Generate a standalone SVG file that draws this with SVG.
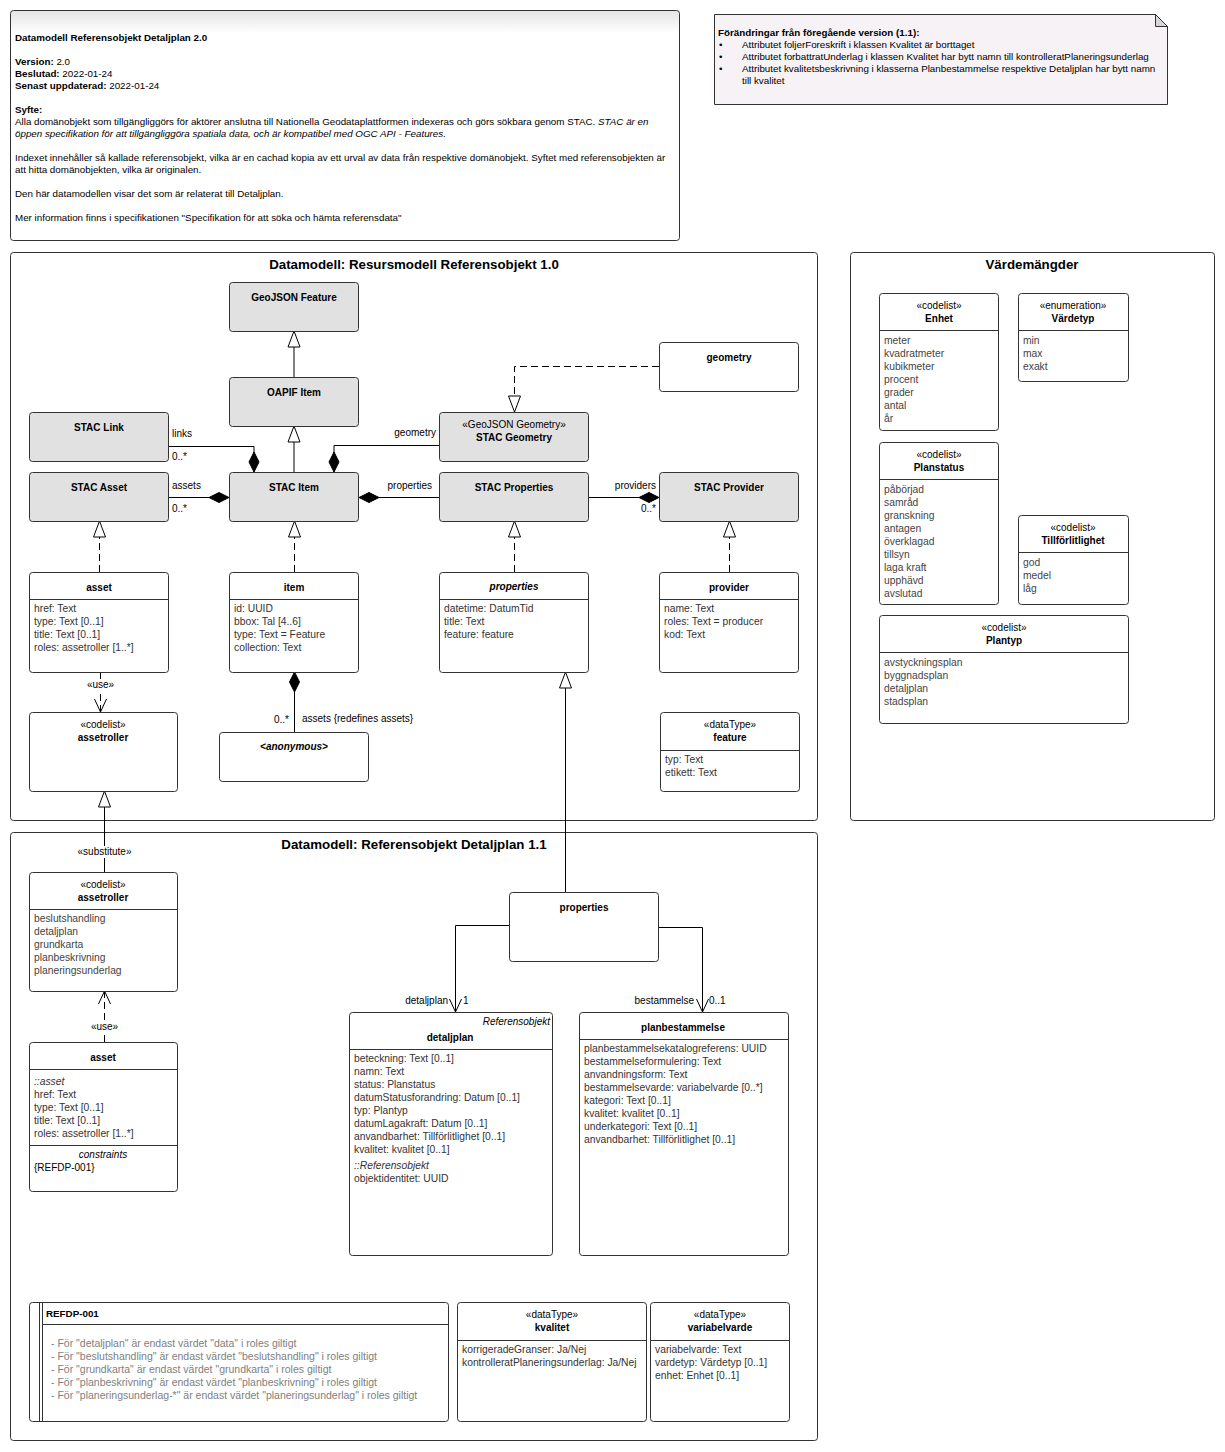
<svg xmlns="http://www.w3.org/2000/svg" width="1225" height="1452" viewBox="0 0 1225 1452">
<style>
text{font-family:"Liberation Sans",Arial,sans-serif;}
.n{font-size:9.8px;fill:#000;}
.nb{font-size:9.8px;font-weight:bold;fill:#000;}
.pk{font-size:13.3px;font-weight:bold;fill:#000;text-anchor:middle;}
.nm{font-size:10px;font-weight:bold;fill:#000;text-anchor:middle;}
.st{font-size:10px;fill:#000;text-anchor:middle;}
.a{font-size:10.3px;fill:#333;}
.v{font-size:10.3px;fill:#444;}
.lb{font-size:10px;fill:#000;}
.c{font-size:10.5px;fill:#808080;}
.frame{fill:#fff;stroke:#333;stroke-width:1;}
.gray{fill:#E1E1E1;stroke:#333;stroke-width:1;}
.box{fill:#fff;stroke:#333;stroke-width:1;}
.div{stroke:#333;stroke-width:1;fill:none;}
.ln{stroke:#000;stroke-width:1;fill:none;}
.dash{stroke:#000;stroke-width:1;fill:none;stroke-dasharray:7,4;}
</style>
<defs>
<linearGradient id="noteGrad" x1="0" y1="0" x2="0" y2="1">
<stop offset="0" stop-color="#E4E4E4"/>
<stop offset="0.1" stop-color="#FFFFFF"/>
<stop offset="1" stop-color="#FFFFFF"/>
</linearGradient>
<marker id="tri" markerUnits="userSpaceOnUse" markerWidth="20" markerHeight="16" refX="17" refY="7" orient="auto">
<path d="M1,1 L17,7 L1,13 z" fill="#fff" stroke="#000" stroke-width="1" stroke-dasharray="none"/>
</marker>
<marker id="dia" markerUnits="userSpaceOnUse" markerWidth="22" markerHeight="12" refX="1" refY="6" orient="auto">
<path d="M1,6 L11,1 L21,6 L11,11 z" fill="#000" stroke="#000" stroke-width="1" stroke-dasharray="none"/>
</marker>
<marker id="open" markerUnits="userSpaceOnUse" markerWidth="16" markerHeight="14" refX="14" refY="7" orient="auto">
<path d="M1,1 L14,7 L1,13" fill="none" stroke="#000" stroke-width="1" stroke-dasharray="none"/>
</marker>
</defs>
<rect width="1225" height="1452" fill="#fff"/>

<!-- Notes -->
<g id="note-main">
<rect x="10.5" y="10.5" width="669" height="230" rx="3" fill="url(#noteGrad)" stroke="#333"/>
<text class="nb" x="15" y="41">Datamodell Referensobjekt Detaljplan 2.0</text>
<text class="n" x="15" y="65"><tspan font-weight="bold">Version:</tspan> 2.0</text>
<text class="n" x="15" y="77"><tspan font-weight="bold">Beslutad:</tspan> 2022-01-24</text>
<text class="n" x="15" y="89"><tspan font-weight="bold">Senast uppdaterad:</tspan> 2022-01-24</text>
<text class="nb" x="15" y="113">Syfte:</text>
<text class="n" x="15" y="125">Alla domänobjekt som tillgängliggörs för aktörer anslutna till Nationella Geodataplattformen indexeras och görs sökbara genom STAC. <tspan font-style="italic">STAC är en</tspan></text>
<text class="n" x="15" y="137" font-style="italic">öppen specifikation för att tillgängliggöra spatiala data, och är kompatibel med OGC API - Features.</text>
<text class="n" x="15" y="161">Indexet innehåller så kallade referensobjekt, vilka är en cachad kopia av ett urval av data från respektive domänobjekt. Syftet med referensobjekten är</text>
<text class="n" x="15" y="173">att hitta domänobjekten, vilka är originalen.</text>
<text class="n" x="15" y="197">Den här datamodellen visar det som är relaterat till Detaljplan.</text>
<text class="n" x="15" y="221">Mer information finns i specifikationen "Specifikation för att söka och hämta referensdata"</text>
</g>
<g id="note-changes">
<path d="M714.5,14.5 H1155.5 L1167.5,26.5 V104.5 H714.5 z" fill="#F6F2F6" stroke="#333"/>
<path d="M1155.5,14.5 V26.5 H1167.5 z" fill="#D6D6D6" stroke="#333"/>
<text class="nb" x="718" y="36">Förändringar från föregående version (1.1):</text>
<text class="n" x="719" y="48">•</text>
<text class="n" x="742" y="48">Attributet foljerForeskrift i klassen Kvalitet är borttaget</text>
<text class="n" x="719" y="60">•</text>
<text class="n" x="742" y="60">Attributet forbattratUnderlag i klassen Kvalitet har bytt namn till kontrolleratPlaneringsunderlag</text>
<text class="n" x="719" y="72">•</text>
<text class="n" x="742" y="72">Attributet kvalitetsbeskrivning i klasserna Planbestammelse respektive Detaljplan har bytt namn</text>
<text class="n" x="742" y="84">till kvalitet</text>
</g>

<!-- Packages -->
<g id="pkg-resursmodell">
<rect class="frame" x="10.5" y="252.5" width="807" height="568" rx="3"/>
<text class="pk" x="414" y="269">Datamodell: Resursmodell Referensobjekt 1.0</text>
</g>
<g id="pkg-detaljplan">
<rect class="frame" x="10.5" y="832.5" width="807" height="608" rx="3"/>
<text class="pk" x="414" y="849">Datamodell: Referensobjekt Detaljplan 1.1</text>
</g>
<g id="pkg-vardemangder">
<rect class="frame" x="850.5" y="252.5" width="364" height="568" rx="3"/>
<text class="pk" x="1032" y="269">Värdemängder</text>
</g>

<!-- Connectors -->
<g id="connectors">
<path class="ln" d="M294,377 V331" marker-end="url(#tri)"/>
<path class="ln" d="M294,472 V426" marker-end="url(#tri)"/>
<path class="ln" d="M254,472 V446.5 H169" marker-start="url(#dia)"/>
<path class="ln" d="M334,472 V445.5 H439" marker-start="url(#dia)"/>
<path class="ln" d="M229,497.5 H169" marker-start="url(#dia)"/>
<path class="ln" d="M359,497.5 H439" marker-start="url(#dia)"/>
<path class="ln" d="M659,497.5 H589" marker-start="url(#dia)"/>
<path class="dash" d="M659,366.5 H514.5 V412" marker-end="url(#tri)"/>
<path class="dash" d="M99.5,572 V521" marker-end="url(#tri)"/>
<path class="dash" d="M294.5,572 V521" marker-end="url(#tri)"/>
<path class="dash" d="M514.5,572 V521" marker-end="url(#tri)"/>
<path class="dash" d="M729.5,572 V521" marker-end="url(#tri)"/>
<path class="dash" d="M100.5,672 V712" marker-end="url(#open)"/>
<path class="ln" d="M294.5,672 V732" marker-start="url(#dia)"/>
<path class="ln" d="M565.5,892 V672" marker-end="url(#tri)"/>
<path class="ln" d="M104.5,872 V791" marker-end="url(#tri)"/>
<path class="dash" d="M104.5,1042 V991" marker-end="url(#open)"/>
<path class="ln" d="M509,925.5 H455.5 V1012" marker-end="url(#open)"/>
<path class="ln" d="M658,927.5 H702.5 V1012" marker-end="url(#open)"/>
<text class="lb" x="172" y="437">links</text>
<text class="lb" x="172" y="460">0..*</text>
<text class="lb" x="436" y="436" text-anchor="end">geometry</text>
<text class="lb" x="172" y="489">assets</text>
<text class="lb" x="172" y="512">0..*</text>
<text class="lb" x="432" y="489" text-anchor="end">properties</text>
<text class="lb" x="656" y="489" text-anchor="end">providers</text>
<text class="lb" x="656" y="512" text-anchor="end">0..*</text>
<rect x="85" y="679" width="32" height="12" fill="#fff"/>
<text class="lb" x="100.5" y="688" text-anchor="middle">«use»</text>
<text class="lb" x="289" y="723" text-anchor="end">0..*</text>
<text class="lb" x="302" y="722">assets {redefines assets}</text>
<rect x="75" y="846" width="59" height="12" fill="#fff"/>
<text class="lb" x="104.5" y="855" text-anchor="middle">«substitute»</text>
<rect x="89" y="1021" width="32" height="12" fill="#fff"/>
<text class="lb" x="104.5" y="1030" text-anchor="middle">«use»</text>
<text class="lb" x="448" y="1004" text-anchor="end">detaljplan</text>
<text class="lb" x="463" y="1004">1</text>
<text class="lb" x="694" y="1004" text-anchor="end">bestammelse</text>
<text class="lb" x="709" y="1004">0..1</text>
</g>

<!-- Package 1 nodes -->
<g id="GeoJSONFeature"><rect class="gray" x="229.5" y="282.5" width="129" height="49" rx="3"/><text class="nm" x="294" y="301">GeoJSON Feature</text></g>
<g id="OAPIFItem"><rect class="gray" x="229.5" y="377.5" width="129" height="49" rx="3"/><text class="nm" x="294" y="396">OAPIF Item</text></g>
<g id="STACLink"><rect class="gray" x="29.5" y="412.5" width="139" height="49" rx="3"/><text class="nm" x="99" y="431">STAC Link</text></g>
<g id="STACAsset"><rect class="gray" x="29.5" y="472.5" width="139" height="49" rx="3"/><text class="nm" x="99" y="491">STAC Asset</text></g>
<g id="STACItem"><rect class="gray" x="229.5" y="472.5" width="129" height="49" rx="3"/><text class="nm" x="294" y="491">STAC Item</text></g>
<g id="STACGeometry"><rect class="gray" x="439.5" y="412.5" width="149" height="49" rx="3"/><text class="st" x="514" y="428">«GeoJSON Geometry»</text><text class="nm" x="514" y="441">STAC Geometry</text></g>
<g id="STACProperties"><rect class="gray" x="439.5" y="472.5" width="149" height="49" rx="3"/><text class="nm" x="514" y="491">STAC Properties</text></g>
<g id="STACProvider"><rect class="gray" x="659.5" y="472.5" width="139" height="49" rx="3"/><text class="nm" x="729" y="491">STAC Provider</text></g>
<g id="geometry"><rect class="box" x="659.5" y="342.5" width="139" height="49" rx="3"/><text class="nm" x="729" y="361">geometry</text></g>

<g id="asset1"><rect class="box" x="29.5" y="572.5" width="139" height="100" rx="3"/><line class="div" x1="29.5" y1="599.5" x2="168.5" y2="599.5"/>
<text class="nm" x="99" y="591">asset</text>
<text class="a" x="34" y="612">href: Text</text>
<text class="a" x="34" y="625">type: Text [0..1]</text>
<text class="a" x="34" y="638">title: Text [0..1]</text>
<text class="a" x="34" y="651">roles: assetroller [1..*]</text></g>
<g id="item"><rect class="box" x="229.5" y="572.5" width="129" height="100" rx="3"/><line class="div" x1="229.5" y1="599.5" x2="358.5" y2="599.5"/>
<text class="nm" x="294" y="591">item</text>
<text class="a" x="234" y="612">id: UUID</text>
<text class="a" x="234" y="625">bbox: Tal [4..6]</text>
<text class="a" x="234" y="638">type: Text = Feature</text>
<text class="a" x="234" y="651">collection: Text</text></g>
<g id="properties1"><rect class="box" x="439.5" y="572.5" width="149" height="100" rx="3"/><line class="div" x1="439.5" y1="599.5" x2="588.5" y2="599.5"/>
<text class="nm" x="514" y="590" font-style="italic">properties</text>
<text class="a" x="444" y="612">datetime: DatumTid</text>
<text class="a" x="444" y="625">title: Text</text>
<text class="a" x="444" y="638">feature: feature</text></g>
<g id="provider"><rect class="box" x="659.5" y="572.5" width="139" height="100" rx="3"/><line class="div" x1="659.5" y1="599.5" x2="798.5" y2="599.5"/>
<text class="nm" x="729" y="591">provider</text>
<text class="a" x="664" y="612">name: Text</text>
<text class="a" x="664" y="625">roles: Text = producer</text>
<text class="a" x="664" y="638">kod: Text</text></g>
<g id="assetroller1"><rect class="box" x="29.5" y="712.5" width="148" height="79" rx="3"/>
<text class="st" x="103" y="728">«codelist»</text>
<text class="nm" x="103" y="741">assetroller</text></g>
<g id="anonymous"><rect class="box" x="219.5" y="732.5" width="149" height="49" rx="3"/>
<text class="nm" x="294" y="750" font-style="italic">&lt;anonymous&gt;</text></g>
<g id="feature"><rect class="box" x="660.5" y="712.5" width="139" height="79" rx="3"/><line class="div" x1="660.5" y1="750.5" x2="799.5" y2="750.5"/>
<text class="st" x="730" y="728">«dataType»</text>
<text class="nm" x="730" y="741">feature</text>
<text class="a" x="665" y="763">typ: Text</text>
<text class="a" x="665" y="776">etikett: Text</text></g>

<!-- Värdemängder nodes -->
<g id="Enhet"><rect class="box" x="879.5" y="293.5" width="119" height="137" rx="3"/><line class="div" x1="879.5" y1="330.5" x2="998.5" y2="330.5"/>
<text class="st" x="939" y="309">«codelist»</text><text class="nm" x="939" y="322">Enhet</text>
<text class="v" x="884" y="344">meter</text><text class="v" x="884" y="357">kvadratmeter</text><text class="v" x="884" y="370">kubikmeter</text><text class="v" x="884" y="383">procent</text><text class="v" x="884" y="396">grader</text><text class="v" x="884" y="409">antal</text><text class="v" x="884" y="422">år</text></g>
<g id="Vardetyp"><rect class="box" x="1018.5" y="293.5" width="110" height="88" rx="3"/><line class="div" x1="1018.5" y1="330.5" x2="1128.5" y2="330.5"/>
<text class="st" x="1073" y="309">«enumeration»</text><text class="nm" x="1073" y="322">Värdetyp</text>
<text class="v" x="1023" y="344">min</text><text class="v" x="1023" y="357">max</text><text class="v" x="1023" y="370">exakt</text></g>
<g id="Planstatus"><rect class="box" x="879.5" y="442.5" width="119" height="162" rx="3"/><line class="div" x1="879.5" y1="479.5" x2="998.5" y2="479.5"/>
<text class="st" x="939" y="458">«codelist»</text><text class="nm" x="939" y="471">Planstatus</text>
<text class="v" x="884" y="493">påbörjad</text><text class="v" x="884" y="506">samråd</text><text class="v" x="884" y="519">granskning</text><text class="v" x="884" y="532">antagen</text><text class="v" x="884" y="545">överklagad</text><text class="v" x="884" y="558">tillsyn</text><text class="v" x="884" y="571">laga kraft</text><text class="v" x="884" y="584">upphävd</text><text class="v" x="884" y="597">avslutad</text></g>
<g id="Tillforlitlighet"><rect class="box" x="1018.5" y="515.5" width="110" height="89" rx="3"/><line class="div" x1="1018.5" y1="552.5" x2="1128.5" y2="552.5"/>
<text class="st" x="1073" y="531">«codelist»</text><text class="nm" x="1073" y="544">Tillförlitlighet</text>
<text class="v" x="1023" y="566">god</text><text class="v" x="1023" y="579">medel</text><text class="v" x="1023" y="592">låg</text></g>
<g id="Plantyp"><rect class="box" x="879.5" y="615.5" width="249" height="108" rx="3"/><line class="div" x1="879.5" y1="652.5" x2="1128.5" y2="652.5"/>
<text class="st" x="1004" y="631">«codelist»</text><text class="nm" x="1004" y="644">Plantyp</text>
<text class="v" x="884" y="666">avstyckningsplan</text><text class="v" x="884" y="679">byggnadsplan</text><text class="v" x="884" y="692">detaljplan</text><text class="v" x="884" y="705">stadsplan</text></g>

<!-- Package 2 nodes -->
<g id="assetroller2"><rect class="box" x="29.5" y="872.5" width="148" height="119" rx="3"/><line class="div" x1="29.5" y1="909.5" x2="177.5" y2="909.5"/>
<text class="st" x="103" y="888">«codelist»</text><text class="nm" x="103" y="901">assetroller</text>
<text class="v" x="34" y="922">beslutshandling</text><text class="v" x="34" y="935">detaljplan</text><text class="v" x="34" y="948">grundkarta</text><text class="v" x="34" y="961">planbeskrivning</text><text class="v" x="34" y="974">planeringsunderlag</text></g>
<g id="asset2"><rect class="box" x="29.5" y="1042.5" width="148" height="149" rx="3"/><line class="div" x1="29.5" y1="1069.5" x2="177.5" y2="1069.5"/><line class="div" x1="29.5" y1="1145.5" x2="177.5" y2="1145.5"/>
<text class="nm" x="103" y="1061">asset</text>
<text class="a" x="34" y="1085" font-style="italic">::asset</text>
<text class="a" x="34" y="1098">href: Text</text>
<text class="a" x="34" y="1111">type: Text [0..1]</text>
<text class="a" x="34" y="1124">title: Text [0..1]</text>
<text class="a" x="34" y="1137">roles: assetroller [1..*]</text>
<text class="st" x="103" y="1158" font-style="italic">constraints</text>
<text class="lb" x="34" y="1171">{REFDP-001}</text></g>
<g id="properties2"><rect class="box" x="509.5" y="892.5" width="149" height="69" rx="3"/>
<text class="nm" x="584" y="911">properties</text></g>
<g id="detaljplan"><rect class="box" x="349.5" y="1012.5" width="203" height="243" rx="3"/><line class="div" x1="349.5" y1="1049.5" x2="552.5" y2="1049.5"/>
<text class="lb" x="550" y="1025" text-anchor="end" font-style="italic">Referensobjekt</text>
<text class="nm" x="450" y="1041">detaljplan</text>
<text class="a" x="354" y="1062">beteckning: Text [0..1]</text>
<text class="a" x="354" y="1075">namn: Text</text>
<text class="a" x="354" y="1088">status: Planstatus</text>
<text class="a" x="354" y="1101">datumStatusforandring: Datum [0..1]</text>
<text class="a" x="354" y="1114">typ: Plantyp</text>
<text class="a" x="354" y="1127">datumLagakraft: Datum [0..1]</text>
<text class="a" x="354" y="1140">anvandbarhet: Tillförlitlighet [0..1]</text>
<text class="a" x="354" y="1153">kvalitet: kvalitet [0..1]</text>
<text class="a" x="354" y="1169" font-style="italic">::Referensobjekt</text>
<text class="a" x="354" y="1182">objektidentitet: UUID</text></g>
<g id="planbestammelse"><rect class="box" x="579.5" y="1012.5" width="209" height="243" rx="3"/><line class="div" x1="579.5" y1="1039.5" x2="788.5" y2="1039.5"/>
<text class="nm" x="683" y="1031">planbestammelse</text>
<text class="a" x="584" y="1052">planbestammelsekatalogreferens: UUID</text>
<text class="a" x="584" y="1065">bestammelseformulering: Text</text>
<text class="a" x="584" y="1078">anvandningsform: Text</text>
<text class="a" x="584" y="1091">bestammelsevarde: variabelvarde [0..*]</text>
<text class="a" x="584" y="1104">kategori: Text [0..1]</text>
<text class="a" x="584" y="1117">kvalitet: kvalitet [0..1]</text>
<text class="a" x="584" y="1130">underkategori: Text [0..1]</text>
<text class="a" x="584" y="1143">anvandbarhet: Tillförlitlighet [0..1]</text></g>
<g id="REFDP-001"><rect class="box" x="29.5" y="1302.5" width="419" height="119" rx="3"/>
<line class="div" x1="39.5" y1="1302.5" x2="39.5" y2="1421.5"/><line class="div" x1="42.5" y1="1302.5" x2="42.5" y2="1421.5"/>
<line class="div" x1="42.5" y1="1324.5" x2="448.5" y2="1324.5"/>
<text class="nb" x="46" y="1317">REFDP-001</text>
<text class="c" x="51" y="1347">- För "detaljplan" är endast värdet "data" i roles giltigt</text>
<text class="c" x="51" y="1360">- För "beslutshandling" är endast värdet "beslutshandling" i roles giltigt</text>
<text class="c" x="51" y="1373">- För "grundkarta" är endast värdet "grundkarta" i roles giltigt</text>
<text class="c" x="51" y="1386">- För "planbeskrivning" är endast värdet "planbeskrivning" i roles giltigt</text>
<text class="c" x="51" y="1399">- För "planeringsunderlag-*" är endast värdet "planeringsunderlag" i roles giltigt</text></g>
<g id="kvalitet"><rect class="box" x="457.5" y="1302.5" width="189" height="119" rx="3"/><line class="div" x1="457.5" y1="1340.5" x2="646.5" y2="1340.5"/>
<text class="st" x="552" y="1318">«dataType»</text><text class="nm" x="552" y="1331">kvalitet</text>
<text class="a" x="462" y="1353">korrigeradeGranser: Ja/Nej</text>
<text class="a" x="462" y="1366">kontrolleratPlaneringsunderlag: Ja/Nej</text></g>
<g id="variabelvarde"><rect class="box" x="650.5" y="1302.5" width="139" height="119" rx="3"/><line class="div" x1="650.5" y1="1340.5" x2="789.5" y2="1340.5"/>
<text class="st" x="720" y="1318">«dataType»</text><text class="nm" x="720" y="1331">variabelvarde</text>
<text class="a" x="655" y="1353">variabelvarde: Text</text>
<text class="a" x="655" y="1366">vardetyp: Värdetyp [0..1]</text>
<text class="a" x="655" y="1379">enhet: Enhet [0..1]</text></g>
</svg>
